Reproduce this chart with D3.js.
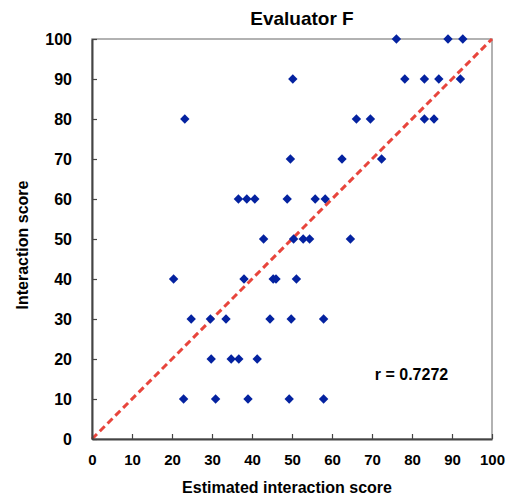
<!DOCTYPE html>
<html><head><meta charset="utf-8">
<script src="https://cdn.jsdelivr.net/npm/d3@7"></script>
<style>body{margin:0;background:#fff}text{font-family:"Liberation Sans",Arial,sans-serif;font-weight:bold;fill:#000}</style>
</head><body><svg id="c" width="506" height="500"></svg>
<script>
const title = "Evaluator F";
const xLabel = "Estimated interaction score";
const yLabel = "Interaction score";
const rText = "r = 0.7272";
const tickValues = [0,10,20,30,40,50,60,70,80,90,100];
const estimated = [76.1,89,92.7, 50.2,78.2,83.1,86.7,92.1, 23.2,66.1,69.6,83.1,85.5, 49.6,62.5,72.4,
  36.6,38.7,40.7,48.8,55.8,58.3, 42.9,50.4,52.8,54.4,64.6, 20.4,38,45.3,46,51.1,
  24.8,29.6,33.5,44.5,49.8,57.9, 29.8,34.8,36.7,41.3, 22.9,30.9,39,49.3,57.9];
const actual = [100,100,100, 90,90,90,90,90, 80,80,80,80,80, 70,70,70,
  60,60,60,60,60,60, 50,50,50,50,50, 40,40,40,40,40,
  30,30,30,30,30,30, 20,20,20,20, 10,10,10,10,10];

const svg = d3.select("#c");
const L=92, R=492, T=39, B=439;
const x = d3.scaleLinear().domain([0,100]).range([L,R]);
const y = d3.scaleLinear().domain([0,100]).range([B,T]);

// frame
svg.append("rect").attr("x",L).attr("y",T).attr("width",R-L).attr("height",B-T)
  .attr("fill","none").attr("stroke","#999").attr("stroke-width",1.5);

// diagonal
svg.append("line").attr("x1",x(0)).attr("y1",y(0)).attr("x2",x(100)).attr("y2",y(100))
  .attr("stroke","#e8453c").attr("stroke-width",3).attr("stroke-dasharray","7,4");

// axes
const xa = svg.append("g").attr("transform",`translate(0,${B})`)
  .call(d3.axisBottom(x).tickValues(tickValues).tickSizeInner(-5).tickSizeOuter(0).tickPadding(15));
const ya = svg.append("g").attr("transform",`translate(${L},0)`)
  .call(d3.axisLeft(y).tickValues(tickValues).tickSizeInner(-5).tickSizeOuter(0).tickPadding(20));
[xa,ya].forEach(a=>{
  a.select(".domain").attr("stroke","#444").attr("stroke-width",2);
  a.selectAll(".tick line").attr("stroke","#444").attr("stroke-width",1.2);
  a.selectAll("text").style("font-size","15px").style("font-family","'Liberation Sans',Arial,sans-serif").style("font-weight","bold").attr("fill","#000");
});
ya.selectAll("text").style("font-size","16px");

// points
const diamond = d3.symbol().type(d3.symbolDiamond2).size(56);
svg.append("g").selectAll("path").data(estimated.map((e,i)=>[e,actual[i]])).join("path")
  .attr("d",diamond).attr("transform",d=>`translate(${x(d[0])},${y(d[1])})`)
  .attr("fill","#0422a0");

// texts
svg.append("text").attr("x",(L+R)/2+10).attr("y",25).attr("text-anchor","middle").style("font-size","19px").text(title);
svg.append("text").attr("x",287).attr("y",493).attr("text-anchor","middle").style("font-size","16px").text(xLabel);
svg.append("text").attr("transform",`translate(28,245) rotate(-90)`).attr("text-anchor","middle")
  .style("font-size","16px").text(yLabel);
svg.append("text").attr("x",x(70.7)).attr("y",y(14.8)).style("font-size","16px").text(rText);
</script></body></html>
